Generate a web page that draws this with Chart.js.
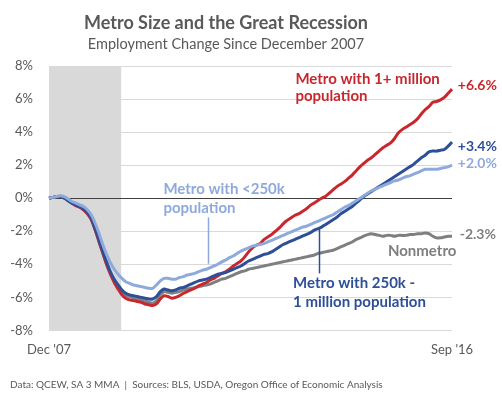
<!DOCTYPE html>
<html>
<head>
<meta charset="utf-8">
<script src="https://cdn.jsdelivr.net/npm/chart.js@4.4.0/dist/chart.umd.min.js"></script>
<style>
  html, body { margin: 0; padding: 0; background: #fff; }
</style>
</head>
<body>
<canvas id="recessionChart" width="502" height="399"></canvas>
<script>
// monthly, Dec 2007 .. Sep 2016 (106 months), % change since Dec 2007
var monthNames = ['Jan','Feb','Mar','Apr','May','Jun','Jul','Aug','Sep','Oct','Nov','Dec'];
var months = ["Dec '07"];
for (var y = 2008; y <= 2016; y++) {
  for (var m = 0; m < 12; m++) {
    if (y === 2016 && m > 8) break;
    months.push(monthNames[m] + " '" + String(y).slice(2));
  }
}

var bigMetro = [
  0, 0.05, 0.1, 0.12, 0.05, -0.1, -0.3, -0.45, -0.55, -0.7,
  -0.95, -1.3, -1.9, -2.6, -3.3, -4.0, -4.6, -5.1, -5.5, -5.85,
  -6.05, -6.15, -6.2, -6.25, -6.3, -6.4, -6.45, -6.5, -6.4, -6.1,
  -5.9, -5.95, -6.05, -6.0, -5.9, -5.75, -5.65, -5.55, -5.45, -5.3,
  -5.2, -5.1, -4.95, -4.85, -4.7, -4.55, -4.45, -4.3, -4.1, -3.95,
  -3.8, -3.55, -3.25, -3.0, -2.85, -2.75, -2.5, -2.35, -2.2, -2.0,
  -1.8, -1.55, -1.35, -1.2, -1.05, -0.95, -0.8, -0.65, -0.45, -0.3,
  -0.15, 0.0, 0.1, 0.3, 0.5, 0.7, 0.85, 1.0, 1.2, 1.4,
  1.65, 1.9, 2.1, 2.3, 2.45, 2.65, 2.85, 3.05, 3.2, 3.35,
  3.6, 3.95, 4.15, 4.3, 4.45, 4.6, 4.8, 5.1, 5.35, 5.55,
  5.8, 5.85, 5.95, 6.1, 6.35, 6.6
];
var midMetro = [
  0, 0.05, 0.1, 0.1, 0.0, -0.15, -0.3, -0.4, -0.5, -0.65,
  -0.85, -1.2, -1.8, -2.5, -3.2, -3.85, -4.45, -4.9, -5.25, -5.55,
  -5.75, -5.85, -5.9, -5.95, -6.0, -6.05, -6.1, -6.1, -5.95, -5.65,
  -5.5, -5.55, -5.6, -5.55, -5.45, -5.4, -5.3, -5.2, -5.1, -5.0,
  -4.95, -4.9, -4.8, -4.7, -4.6, -4.55, -4.5, -4.4, -4.3, -4.2,
  -4.1, -3.95, -3.8, -3.7, -3.6, -3.5, -3.4, -3.35, -3.25, -3.1,
  -2.95, -2.8, -2.7, -2.6, -2.5, -2.4, -2.3, -2.2, -2.1, -1.95,
  -1.85, -1.75, -1.6, -1.45, -1.3, -1.15, -0.95, -0.8, -0.65, -0.5,
  -0.3, -0.1, 0.1, 0.25, 0.4, 0.55, 0.7, 0.85, 1.0, 1.15,
  1.3, 1.45, 1.6, 1.75, 1.9, 2.05, 2.25, 2.45, 2.6, 2.8,
  2.85, 2.85, 2.9, 2.95, 3.15, 3.4
];
var smallMetro = [
  0, 0.05, 0.1, 0.15, 0.1, -0.05, -0.2, -0.3, -0.4, -0.5,
  -0.7, -1.0, -1.5, -2.1, -2.8, -3.4, -3.9, -4.3, -4.6, -4.85,
  -5.05, -5.15, -5.25, -5.3, -5.35, -5.4, -5.45, -5.45, -5.25, -5.0,
  -4.85, -4.85, -4.9, -4.9, -4.8, -4.75, -4.65, -4.6, -4.55, -4.45,
  -4.35, -4.3, -4.2, -4.1, -4.0, -3.85, -3.75, -3.6, -3.5, -3.35,
  -3.2, -3.1, -3.0, -2.9, -2.85, -2.8, -2.75, -2.65, -2.55, -2.45,
  -2.35, -2.25, -2.15, -2.05, -1.95, -1.85, -1.75, -1.7, -1.6, -1.5,
  -1.4, -1.3, -1.2, -1.1, -1.0, -0.85, -0.7, -0.55, -0.45, -0.3,
  -0.15, 0.0, 0.15, 0.3, 0.45, 0.55, 0.65, 0.75, 0.85, 0.95,
  1.05, 1.1, 1.2, 1.3, 1.35, 1.45, 1.55, 1.65, 1.75, 1.75,
  1.75, 1.75, 1.8, 1.85, 1.9, 2.0
];
var nonMetro = [
  0, 0.05, 0.1, 0.1, 0.0, -0.15, -0.3, -0.45, -0.55, -0.7,
  -0.9, -1.25, -1.9, -2.6, -3.3, -4.0, -4.55, -5.0, -5.35, -5.65,
  -5.85, -5.95, -6.05, -6.1, -6.15, -6.25, -6.3, -6.35, -6.2, -5.85,
  -5.65, -5.7, -5.75, -5.7, -5.65, -5.55, -5.5, -5.45, -5.4, -5.35,
  -5.3, -5.25, -5.2, -5.1, -5.0, -4.9, -4.85, -4.75, -4.65, -4.55,
  -4.45, -4.4, -4.3, -4.25, -4.2, -4.15, -4.1, -4.05, -4.0, -3.95,
  -3.9, -3.85, -3.8, -3.75, -3.7, -3.65, -3.6, -3.55, -3.5, -3.45,
  -3.35, -3.3, -3.25, -3.2, -3.15, -3.05, -2.95, -2.85, -2.75, -2.65,
  -2.5, -2.4, -2.3, -2.2, -2.15, -2.2, -2.25, -2.3, -2.25, -2.25,
  -2.3, -2.25, -2.25, -2.25, -2.2, -2.2, -2.15, -2.15, -2.1, -2.15,
  -2.3, -2.4, -2.4, -2.35, -2.3, -2.3
];
var yTicks = [-8, -6, -4, -2, 0, 2, 4, 6, 8];
var recessionEnd = 18.8; // shading runs to about Jul '09

var FONT = 'Lato, "Open Sans", sans-serif';
var TEXT = '#595959';
var RED = '#c8282d', BLUE = '#2d4f98', LBLUE = '#8eaadc', GRAY = '#7f7f7f';

// grey band for the recession
var recessionShade = {
  id: 'recessionShade',
  beforeDraw: function(chart) {
    var a = chart.chartArea, x = chart.scales.x, c = chart.ctx;
    c.save();
    c.fillStyle = '#d9d9d9';
    var x0 = x.getPixelForValue(0), x1 = x.getPixelForValue(recessionEnd);
    c.fillRect(x0, a.top, x1 - x0, a.bottom - a.top);
    c.restore();
  }
};

// series labels, leader lines and the footer note
var notes = {
  id: 'notes',
  afterDatasetsDraw: function(chart) {
    var c = chart.ctx, x = chart.scales.x, y = chart.scales.y;
    function txt(s, i, v, color, size) {
      c.font = 'bold ' + size + 'px ' + FONT;
      c.fillStyle = color;
      c.textAlign = 'left';
      c.textBaseline = 'middle';
      c.fillText(s, x.getPixelForValue(i), y.getPixelForValue(v));
    }
    function lead(i, v0, v1, color) {
      var px = Math.round(x.getPixelForValue(i)) + 0.5;
      c.strokeStyle = color;
      c.lineWidth = 1.5;
      c.beginPath();
      c.moveTo(px, y.getPixelForValue(v0));
      c.lineTo(px, y.getPixelForValue(v1));
      c.stroke();
    }
    c.save();
    txt('Metro with 1+ million', 64.2, 7.2, RED, 15);
    txt('population', 64.2, 6.15, RED, 15);
    txt('+6.6%', 106.5, 6.82, RED, 14);
    txt('+3.4%', 106.5, 3.12, BLUE, 14);
    txt('+2.0%', 106.5, 2.1, LBLUE, 14);
    txt('-2.3%', 107, -2.2, GRAY, 14);
    txt('Nonmetro', 88.3, -3.18, GRAY, 15);
    txt('Metro with <250k', 29.8, 0.56, LBLUE, 15);
    txt('population', 29.8, -0.6, LBLUE, 15);
    lead(41.3, -1.16, -3.97, LBLUE);
    txt('Metro with 250k -', 63.6, -5.13, BLUE, 15);
    txt('1 million population', 63.6, -6.28, BLUE, 15);
    lead(70.3, -1.85, -4.55, BLUE);
    c.restore();
  },
  afterDraw: function(chart) {
    var c = chart.ctx;
    c.save();
    c.font = '10px ' + FONT;
    c.fillStyle = TEXT;
    c.textAlign = 'left';
    c.textBaseline = 'middle';
    c.fillText('Data: QCEW, SA 3 MMA  |  Sources: BLS, USDA, Oregon Office of Economic Analysis', 10, 385);
    c.restore();
  }
};

function line(label, data, color, order) {
  return {
    label: label,
    data: data,
    borderColor: color,
    backgroundColor: color,
    borderWidth: 3,
    pointRadius: 0,
    tension: 0.25,
    fill: false,
    order: order
  };
}

var ctx = document.getElementById('recessionChart').getContext('2d');
new Chart(ctx, {
  type: 'line',
  data: {
    labels: months,
    datasets: [
      line('Metro with <250k population', smallMetro, LBLUE, 0),
      line('Metro with 250k - 1 million population', midMetro, BLUE, 1),
      line('Metro with 1+ million population', bigMetro, RED, 2),
      line('Nonmetro', nonMetro, GRAY, 3)
    ]
  },
  options: {
    responsive: false,
    animation: false,
    layout: { padding: { left: 0, right: 50, top: 0, bottom: 29 } },
    plugins: {
      legend: { display: false },
      tooltip: { enabled: false },
      title: {
        display: true,
        text: 'Metro Size and the Great Recession',
        color: TEXT,
        font: { family: FONT, size: 18, weight: 'bold' },
        padding: { top: 12, bottom: 2 }
      },
      subtitle: {
        display: true,
        text: 'Employment Change Since December 2007',
        color: TEXT,
        font: { family: FONT, size: 14.5 },
        padding: { top: 0, bottom: 13 }
      }
    },
    scales: {
      x: {
        grid: { display: false, drawTicks: false },
        border: { display: false },
        ticks: {
          autoSkip: false,
          maxRotation: 0,
          padding: 12,
          color: TEXT,
          font: { family: FONT, size: 13 },
          callback: function(v, i) {
            return (i === 0 || i === months.length - 1) ? months[i] : '';
          }
        }
      },
      y: {
        min: -8,
        max: 8,
        afterBuildTicks: function(s) {
          s.ticks = yTicks.map(function(v) { return { value: v }; });
        },
        afterFit: function(s) { s.width = 49; },
        grid: {
          drawTicks: false,
          color: function(c) { return c.tick && c.tick.value === 0 ? '#404040' : '#d9d9d9'; }
        },
        border: { display: false },
        ticks: {
          padding: 16,
          color: TEXT,
          font: { family: FONT, size: 13 },
          callback: function(v) { return v + '%'; }
        }
      }
    }
  },
  plugins: [recessionShade, notes]
});
</script>
</body>
</html>
